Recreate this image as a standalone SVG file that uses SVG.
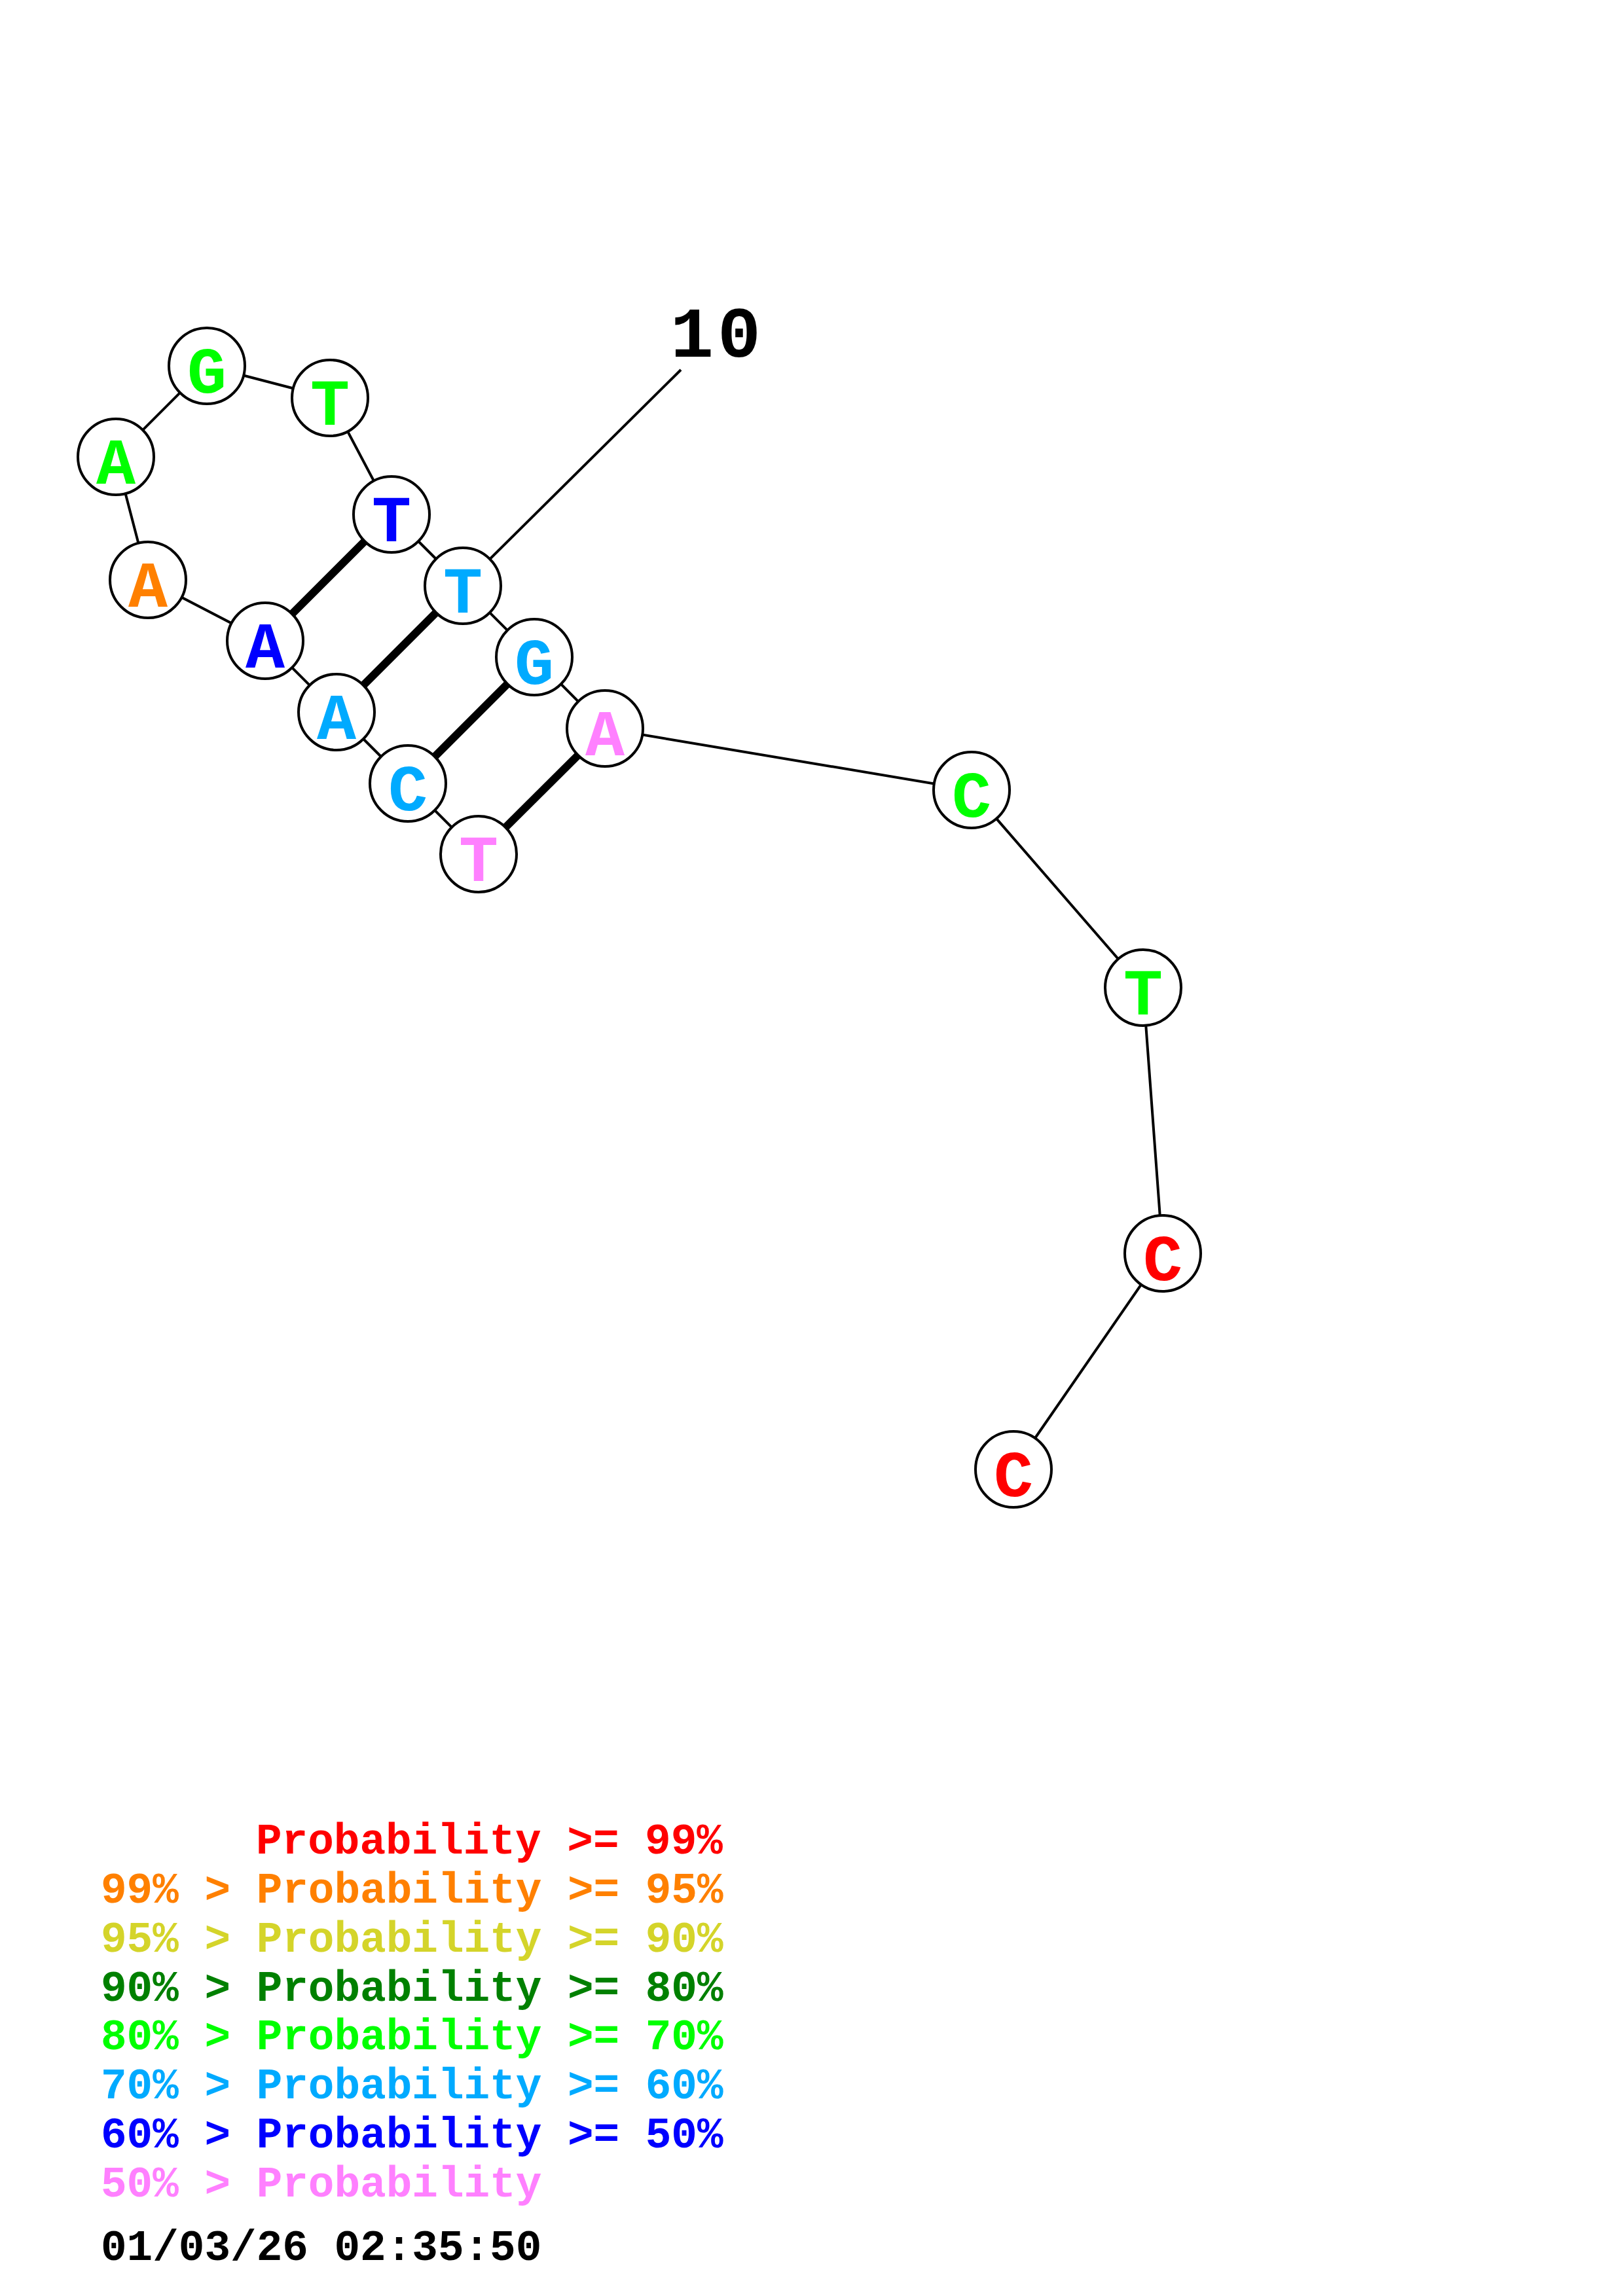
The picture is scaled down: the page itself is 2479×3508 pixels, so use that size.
<svg xmlns="http://www.w3.org/2000/svg" width="2479" height="3508" viewBox="0 0 2479 3508">
<style>
.bb{stroke:#000;stroke-width:4;fill:none}
.pr{stroke:#000;stroke-width:12;fill:none}
.nd circle{fill:#fff;stroke:#000;stroke-width:4}
.nd text{font-family:"Liberation Mono","DejaVu Sans Mono",monospace;font-weight:bold;font-size:100px;text-anchor:middle}
.lg{font-family:"Liberation Mono","DejaVu Sans Mono",monospace;font-weight:bold;font-size:66px}
</style>
<rect width="2479" height="3508" fill="#fff"/>
<g id="connectors">
<polyline class="bb" points="1548,2245 1776,1915 1746,1509 1484,1207 924,1113 816,1004 707,895 598,786 504,608 316,559 177,698 226,886 405,979 514,1088 623,1197 731,1305"/>
<line class="bb" x1="1040" y1="565" x2="707" y2="895"/>
<line class="pr" x1="598" y1="786" x2="405" y2="979"/>
<line class="pr" x1="707" y1="895" x2="514" y2="1088"/>
<line class="pr" x1="816" y1="1004" x2="623" y2="1197"/>
<line class="pr" x1="924" y1="1113" x2="731" y2="1305"/>
</g>
<g id="n1" class="nd"><circle cx="731" cy="1305" r="58"/><text x="731" y="1346" fill="#FF80FF">T</text></g>
<g id="n2" class="nd"><circle cx="623" cy="1197" r="58"/><text x="623" y="1238" fill="#00AAFF">C</text></g>
<g id="n3" class="nd"><circle cx="514" cy="1088" r="58"/><text x="514" y="1129" fill="#00AAFF">A</text></g>
<g id="n4" class="nd"><circle cx="405" cy="979" r="58"/><text x="405" y="1020" fill="#0000FF">A</text></g>
<g id="n5" class="nd"><circle cx="226" cy="886" r="58"/><text x="226" y="927" fill="#FF8000">A</text></g>
<g id="n6" class="nd"><circle cx="177" cy="698" r="58"/><text x="177" y="739" fill="#00FF00">A</text></g>
<g id="n7" class="nd"><circle cx="316" cy="559" r="58"/><text x="316" y="600" fill="#00FF00">G</text></g>
<g id="n8" class="nd"><circle cx="504" cy="608" r="58"/><text x="504" y="649" fill="#00FF00">T</text></g>
<g id="n9" class="nd"><circle cx="598" cy="786" r="58"/><text x="598" y="827" fill="#0000FF">T</text></g>
<g id="n10" class="nd"><circle cx="707" cy="895" r="58"/><text x="707" y="936" fill="#00AAFF">T</text></g>
<g id="n11" class="nd"><circle cx="816" cy="1004" r="58"/><text x="816" y="1045" fill="#00AAFF">G</text></g>
<g id="n12" class="nd"><circle cx="924" cy="1113" r="58"/><text x="924" y="1154" fill="#FF80FF">A</text></g>
<g id="n13" class="nd"><circle cx="1484" cy="1207" r="58"/><text x="1484" y="1248" fill="#00FF00">C</text></g>
<g id="n14" class="nd"><circle cx="1746" cy="1509" r="58"/><text x="1746" y="1550" fill="#00FF00">T</text></g>
<g id="n15" class="nd"><circle cx="1776" cy="1915" r="58"/><text x="1776" y="1956" fill="#FF0000">C</text></g>
<g id="n16" class="nd"><circle cx="1548" cy="2245" r="58"/><text x="1548" y="2286" fill="#FF0000">C</text></g>
<g id="label10"><text x="1024" y="545" font-family="Liberation Mono, DejaVu Sans Mono, monospace" font-weight="bold" font-size="110" letter-spacing="6" fill="#000">10</text></g>
<g id="legend" class="lg">
<text x="391" y="2832" fill="#FF0000">Probability &gt;= 99%</text>
<text x="154" y="2907" fill="#FF8000">99% &gt; Probability &gt;= 95%</text>
<text x="154" y="2982" fill="#D4D42A">95% &gt; Probability &gt;= 90%</text>
<text x="154" y="3057" fill="#008000">90% &gt; Probability &gt;= 80%</text>
<text x="154" y="3131" fill="#00FF00">80% &gt; Probability &gt;= 70%</text>
<text x="154" y="3206" fill="#00AAFF">70% &gt; Probability &gt;= 60%</text>
<text x="154" y="3281" fill="#0000FF">60% &gt; Probability &gt;= 50%</text>
<text x="154" y="3356" fill="#FF80FF">50% &gt; Probability</text>
<text x="154" y="3453" fill="#000">01/03/26 02:35:50</text>
</g>
</svg>
